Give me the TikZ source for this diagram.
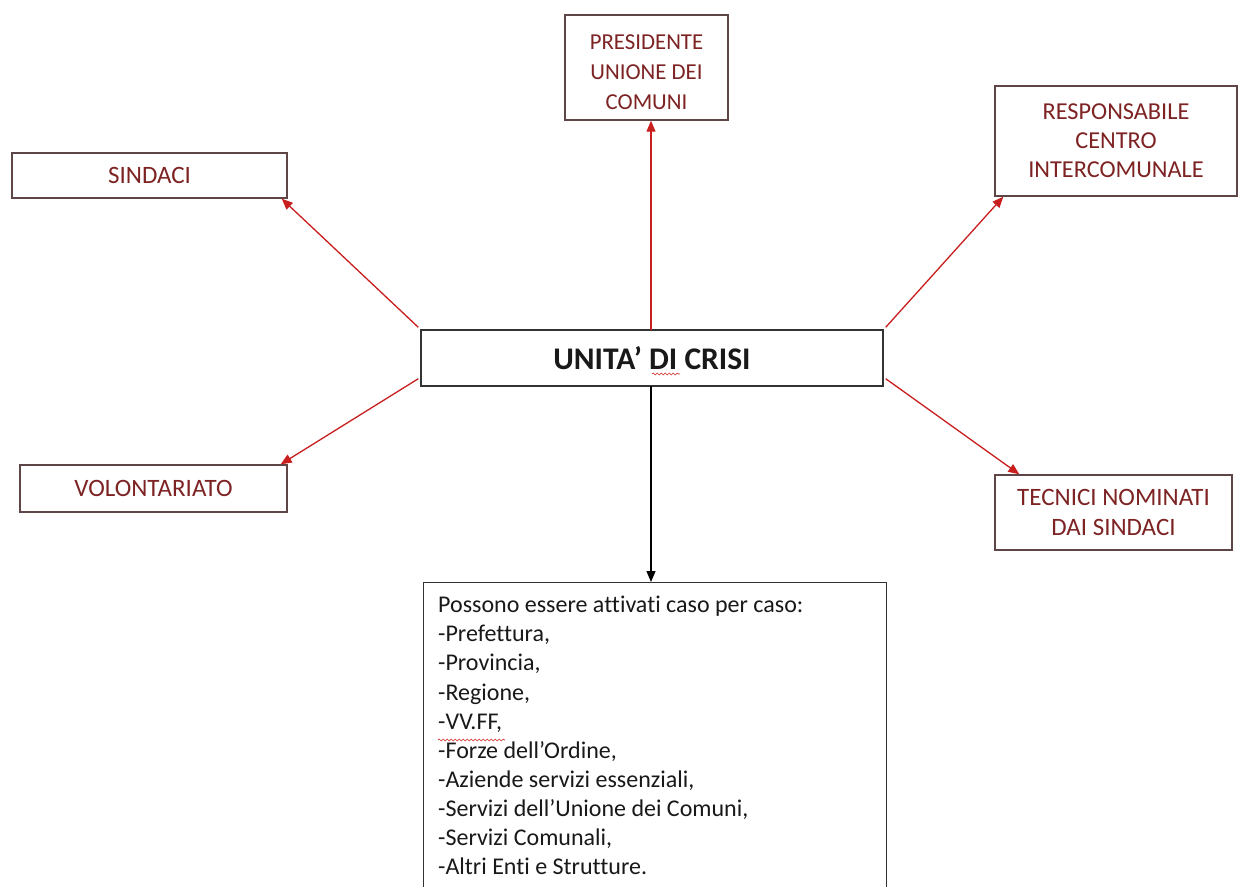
\documentclass[tikz,border=0pt]{standalone}
\usepackage{fontspec}
\setmainfont{Carlito}[Ligatures=NoCommon]
\usetikzlibrary{arrows.meta,decorations.pathmorphing,calc}
\definecolor{lbltext}{RGB}{125,35,35}
\definecolor{boxline}{RGB}{95,70,70}
\definecolor{arrred}{RGB}{200,30,30}
\definecolor{squig}{RGB}{210,40,40}
\tikzset{
  redbox/.style={draw=boxline, line width=1.4pt, fill=white, rectangle, align=center,
    text=lbltext, font=\fontsize{25}{28}\selectfont, inner sep=0pt},
  mainbox/.style={draw=black!80, line width=1.4pt, fill=white, rectangle, inner sep=0pt,
    font=\fontsize{31.5}{36}\selectfont\bfseries, text=black!90},
  listbox/.style={draw=black!80, line width=1.4pt, fill=white, rectangle, inner sep=0pt},
  redarrow/.style={draw=arrred, line width=1.3pt, -{Triangle[length=11pt,width=9pt]}},
  blackarrow/.style={draw=black, line width=1.3pt, -{Triangle[length=11pt,width=9pt]}},
  squiggle/.style={draw=squig, line width=0.6pt, decorate,
    decoration={snake, amplitude=1pt, segment length=4pt}}
}
\begin{document}
\begin{tikzpicture}[x=1pt,y=-1pt]
\useasboundingbox (0,0) rectangle (1239,886);
\fill[white] (0,0) rectangle (1239,886);

\node[redbox, minimum width=163pt, minimum height=105pt, font=\fontsize{22.8}{30}\selectfont] (pres) at (646.5,67.5) {\rule{0pt}{25pt}PRESIDENTE\\UNIONE DEI\\COMUNI};
\node[redbox, minimum width=275pt, minimum height=45pt] (sind) at (149.5,175.5) {SINDACI};
\node[redbox, minimum width=242pt, minimum height=110pt, font=\fontsize{24.3}{29}\selectfont] (resp) at (1116,141) {RESPONSABILE\\CENTRO\\INTERCOMUNALE};
\node[mainbox, minimum width=462pt, minimum height=56pt] (unita) at (652,358) {UNITA’ DI CRISI};
\node[redbox, minimum width=267pt, minimum height=47pt] (volo) at (153.5,488.5) {VOLONTARIATO};
\node[redbox, minimum width=237pt, minimum height=75pt, font=\fontsize{25}{30}\selectfont] (tec) at (1113.5,512.5) {TECNICI NOMINATI\\DAI SINDACI};
\node[listbox, minimum width=463pt, minimum height=320pt, anchor=north west] (list) at (423,582) {};
\node[anchor=north west, align=left, inner sep=0pt, font=\fontsize{24}{29.1}\selectfont, text=black!90]
  (listtext) at (438,596) {Possono essere attivati caso per caso:\\
-Prefettura,\\
-Provincia,\\
-Regione,\\
-VV.FF,\\
-Forze dell’Ordine,\\
-Aziende servizi essenziali,\\
-Servizi dell’Unione dei Comuni,\\
-Servizi Comunali,\\
-Altri Enti e Strutture.};

\coordinate (uNW) at ($(unita.north west)+(-2,-2)$);
\coordinate (uSW) at ($(unita.south west)+(-2,-8)$);
\coordinate (uNE) at ($(unita.north east)+(2,-2)$);
\coordinate (uSE) at ($(unita.south east)+(2,-8)$);
\coordinate (uN) at (651,330);
\coordinate (uS) at (651,386);

\draw[redarrow] (uN) -- (pres.south -| uN);
\draw[redarrow] (uNW) -- ($(sind.south east)+(-6,0)$);
\draw[redarrow] (uNE) -- ($(resp.south west)+(9,0)$);
\draw[redarrow] (uSW) -- ($(volo.north east)+(-7,0)$);
\draw[redarrow] (uSE) -- ($(tec.north west)+(25,0)$);
\draw[blackarrow] (uS) -- (list.north -| uS);

\draw[squiggle] (652,374) -- (680,374);
\draw[squiggle] (438,740) -- (505,740);
\end{tikzpicture}
\end{document}
